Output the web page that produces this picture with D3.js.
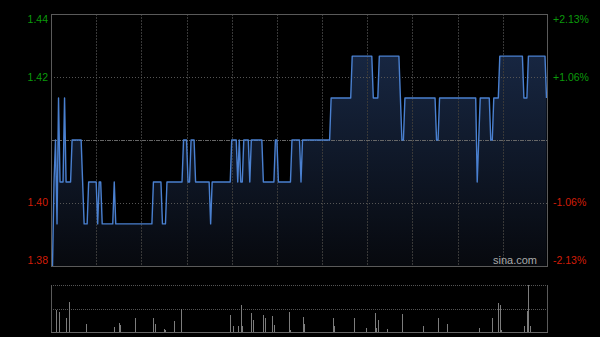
<!DOCTYPE html>
<meta charset="utf-8">
<script src="https://d3js.org/d3.v7.min.js"></script>
<style>
    body { margin: 0; background: #000; }
    svg { display: block; }
    text { font-family: "Liberation Sans", Arial, sans-serif; }
</style>
<div id="chart"></div>
<script>

    // previous close and the percent ticks on the right
    var prevClose = 1.41;
    var pctTicks = [2.13, 1.06, -1.06, -2.13];

    // one price per minute, 9:30-12:00 then 13:00-16:00
    var prices = [
        1.38,1.38,1.40,1.41,1.39,1.42,1.40,1.40,1.40,1.42,
        1.40,1.40,1.40,1.40,1.41,1.41,1.41,1.41,1.41,1.41,
        1.41,1.40,1.39,1.39,1.39,1.40,1.40,1.40,1.40,1.40,
        1.40,1.39,1.40,1.40,1.39,1.39,1.39,1.39,1.39,1.39,
        1.39,1.39,1.40,1.39,1.39,1.39,1.39,1.39,1.39,1.39,
        1.39,1.39,1.39,1.39,1.39,1.39,1.39,1.39,1.39,1.39,
        1.39,1.39,1.39,1.39,1.39,1.39,1.39,1.39,1.40,1.40,
        1.40,1.40,1.40,1.40,1.39,1.39,1.39,1.40,1.40,1.40,
        1.40,1.40,1.40,1.40,1.40,1.40,1.40,1.40,1.41,1.41,
        1.41,1.40,1.40,1.41,1.41,1.41,1.40,1.40,1.40,1.40,
        1.40,1.40,1.40,1.40,1.40,1.40,1.39,1.40,1.40,1.40,
        1.40,1.40,1.40,1.40,1.40,1.40,1.40,1.40,1.40,1.40,
        1.41,1.41,1.41,1.41,1.40,1.41,1.40,1.40,1.41,1.41,
        1.41,1.41,1.40,1.41,1.41,1.41,1.41,1.41,1.41,1.41,
        1.41,1.40,1.40,1.40,1.40,1.40,1.40,1.40,1.40,1.41,
        1.41,1.40,1.40,1.40,1.40,1.40,1.40,1.40,1.40,1.40,
        1.41,1.41,1.41,1.41,1.41,1.41,1.40,1.41,1.41,1.41,
        1.41,1.41,1.41,1.41,1.41,1.41,1.41,1.41,1.41,1.41,
        1.41,1.41,1.41,1.41,1.41,1.41,1.42,1.42,1.42,1.42,
        1.42,1.42,1.42,1.42,1.42,1.42,1.42,1.42,1.42,1.42,
        1.43,1.43,1.43,1.43,1.43,1.43,1.43,1.43,1.43,1.43,
        1.43,1.43,1.43,1.43,1.42,1.42,1.42,1.42,1.43,1.43,
        1.43,1.43,1.43,1.43,1.43,1.43,1.43,1.43,1.43,1.43,
        1.43,1.43,1.42,1.41,1.41,1.42,1.42,1.42,1.42,1.42,
        1.42,1.42,1.42,1.42,1.42,1.42,1.42,1.42,1.42,1.42,
        1.42,1.42,1.42,1.42,1.42,1.42,1.41,1.41,1.42,1.42,
        1.42,1.42,1.42,1.42,1.42,1.42,1.42,1.42,1.42,1.42,
        1.42,1.42,1.42,1.42,1.42,1.42,1.42,1.42,1.42,1.42,
        1.42,1.42,1.42,1.40,1.41,1.42,1.42,1.42,1.42,1.42,
        1.42,1.42,1.41,1.41,1.42,1.42,1.42,1.42,1.43,1.43,
        1.43,1.43,1.43,1.43,1.43,1.43,1.43,1.43,1.43,1.43,
        1.43,1.43,1.43,1.43,1.42,1.42,1.42,1.43,1.43,1.43,
        1.43,1.43,1.43,1.43,1.43,1.43,1.43,1.43,1.43,1.42
    ];

    // minutes with visible volume and their size (thousand shares)
    var volMinutes = [3,5,10,12,23,42,45,46,56,68,69,75,76,82,86,119,121,124,126,127,133,134,141,142,147,148,158,159,167,168,187,188,201,209,215,216,217,223,233,247,257,263,284,293,297,298,299,314,316,317,318];
    var volAmounts = [22,20,14,30,8,5,9,7,14,14,8,3,2,11,23,17,6,6,27,6,19,12,17,14,16,7,20,2,15,8,14,6,14,4,19,4,12,3,18,6,14,8,4,14,29,27,2,6,21,47,6];

    var totalMinutes = 330;

    var width = 600, height = 337;
    var plot = {left: 51, right: 548, top: 14, bottom: 266};
    var vol = {top: 285, bottom: 332};

    var svg = d3.select("#chart")
        .append("svg")
        .attr("width", width)
        .attr("height", height)
        .style("background", "#000");

    var x = d3.scaleLinear()
        .domain([0, totalMinutes])
        .range([plot.left, plot.right]);

    var span = prevClose * pctTicks[0] / 100;
    var y = d3.scaleLinear()
        .domain([prevClose - span, prevClose + span])
        .range([plot.bottom, plot.top]);

    var yVol = d3.scaleLinear()
        .domain([0, d3.max(volAmounts)])
        .range([vol.bottom, vol.top]);

    // gradient under the price line
    var grad = svg.append("defs").append("linearGradient")
        .attr("id", "areaFill")
        .attr("gradientUnits", "userSpaceOnUse")
        .attr("x1", 0).attr("x2", 0)
        .attr("y1", y(1.43)).attr("y2", plot.bottom);
    grad.append("stop").attr("offset", 0).attr("stop-color", "#172641");
    grad.append("stop").attr("offset", 1).attr("stop-color", "#07090e");

    // area + line
    var area = d3.area()
        .x(function(d, i) { return x(i); })
        .y0(plot.bottom)
        .y1(function(d) { return y(d); });

    svg.append("path")
        .datum(prices)
        .attr("d", area)
        .attr("fill", "url(#areaFill)");

    // vertical grid every half hour
    var half = d3.range(30, totalMinutes, 30);
    svg.selectAll(".vgrid")
        .data(half)
        .enter()
        .append("line")
        .attr("x1", function(d) { return Math.round(x(d)) + 0.5; })
        .attr("x2", function(d) { return Math.round(x(d)) + 0.5; })
        .attr("y1", plot.top)
        .attr("y2", plot.bottom)
        .attr("stroke", "#383838")
        .attr("stroke-dasharray", "2,1");

    // horizontal grid at +/-1.06%
    svg.selectAll(".hgrid")
        .data([pctTicks[1], pctTicks[2]])
        .enter()
        .append("line")
        .attr("x1", plot.left)
        .attr("x2", plot.right)
        .attr("y1", function(d) { return Math.round(y(prevClose * (1 + d / 100))) + 0.5; })
        .attr("y2", function(d) { return Math.round(y(prevClose * (1 + d / 100))) + 0.5; })
        .attr("stroke", "#555")
        .attr("stroke-dasharray", "1,2");

    // previous close line
    svg.append("line")
        .attr("x1", plot.left)
        .attr("x2", plot.right)
        .attr("y1", Math.round(y(prevClose)) + 0.5)
        .attr("y2", Math.round(y(prevClose)) + 0.5)
        .attr("stroke", "#666")
        .attr("stroke-dasharray", "4,1,1,1");

    var line = d3.line()
        .x(function(d, i) { return x(i); })
        .y(function(d) { return y(d); });

    svg.append("path")
        .datum(prices)
        .attr("d", line)
        .attr("fill", "none")
        .attr("stroke", "#4a80d0")
        .attr("stroke-width", 1.4)
        .attr("stroke-linejoin", "round");

    // frame of the price panel
    svg.append("rect")
        .attr("x", plot.left + 0.5)
        .attr("y", plot.top + 0.5)
        .attr("width", plot.right - plot.left - 1)
        .attr("height", plot.bottom - plot.top)
        .attr("fill", "none")
        .attr("stroke", "#5a5a5a");

    // left price labels, right percent labels
    var labelNudge = [5, 0, 0, -6];
    svg.selectAll(".lbl-left")
        .data(pctTicks)
        .enter()
        .append("text")
        .attr("x", plot.left - 3)
        .attr("y", function(d, i) { return y(prevClose * (1 + d / 100)) + labelNudge[i]; })
        .attr("dy", "0.35em")
        .attr("text-anchor", "end")
        .attr("font-size", "10.5px")
        .attr("fill", function(d) { return d > 0 ? "#0b9a0b" : "#d21d08"; })
        .text(function(d) { return d3.format(".2f")(prevClose * (1 + d / 100)); });

    svg.selectAll(".lbl-right")
        .data(pctTicks)
        .enter()
        .append("text")
        .attr("x", plot.right + 5)
        .attr("y", function(d, i) { return y(prevClose * (1 + d / 100)) + labelNudge[i]; })
        .attr("dy", "0.35em")
        .attr("font-size", "10.5px")
        .attr("fill", function(d) { return d > 0 ? "#0b9a0b" : "#d21d08"; })
        .text(function(d) { return (d > 0 ? "+" : "") + d.toFixed(2) + "%"; });

    // watermark
    svg.append("text")
        .attr("x", 537)
        .attr("y", 264)
        .attr("text-anchor", "end")
        .attr("font-size", "11px")
        .attr("fill", "#aaaaaa")
        .text("sina.com");

    // volume panel
    svg.append("line")
        .attr("x1", plot.left).attr("x2", plot.right)
        .attr("y1", vol.top + 0.5).attr("y2", vol.top + 0.5)
        .attr("stroke", "#555")
        .attr("stroke-dasharray", "1,1");
    svg.append("line")
        .attr("x1", plot.left).attr("x2", plot.right)
        .attr("y1", Math.round((vol.top + vol.bottom) / 2) + 0.5)
        .attr("y2", Math.round((vol.top + vol.bottom) / 2) + 0.5)
        .attr("stroke", "#555")
        .attr("stroke-dasharray", "1,1");

    svg.selectAll(".vbar")
        .data(volMinutes)
        .enter()
        .append("line")
        .attr("x1", function(d) { return Math.round(x(d)) + 0.5; })
        .attr("x2", function(d) { return Math.round(x(d)) + 0.5; })
        .attr("y1", vol.bottom)
        .attr("y2", function(d, i) { return yVol(volAmounts[i]); })
        .attr("stroke", "#7c7c7c");

    svg.append("line")
        .attr("x1", plot.left).attr("x2", plot.right)
        .attr("y1", vol.bottom + 0.5).attr("y2", vol.bottom + 0.5)
        .attr("stroke", "#666");
    svg.append("line")
        .attr("x1", plot.left + 0.5).attr("x2", plot.left + 0.5)
        .attr("y1", vol.top).attr("y2", vol.bottom)
        .attr("stroke", "#5a5a5a");
    svg.append("line")
        .attr("x1", plot.right - 0.5).attr("x2", plot.right - 0.5)
        .attr("y1", vol.top).attr("y2", vol.bottom)
        .attr("stroke", "#5a5a5a");

</script>
